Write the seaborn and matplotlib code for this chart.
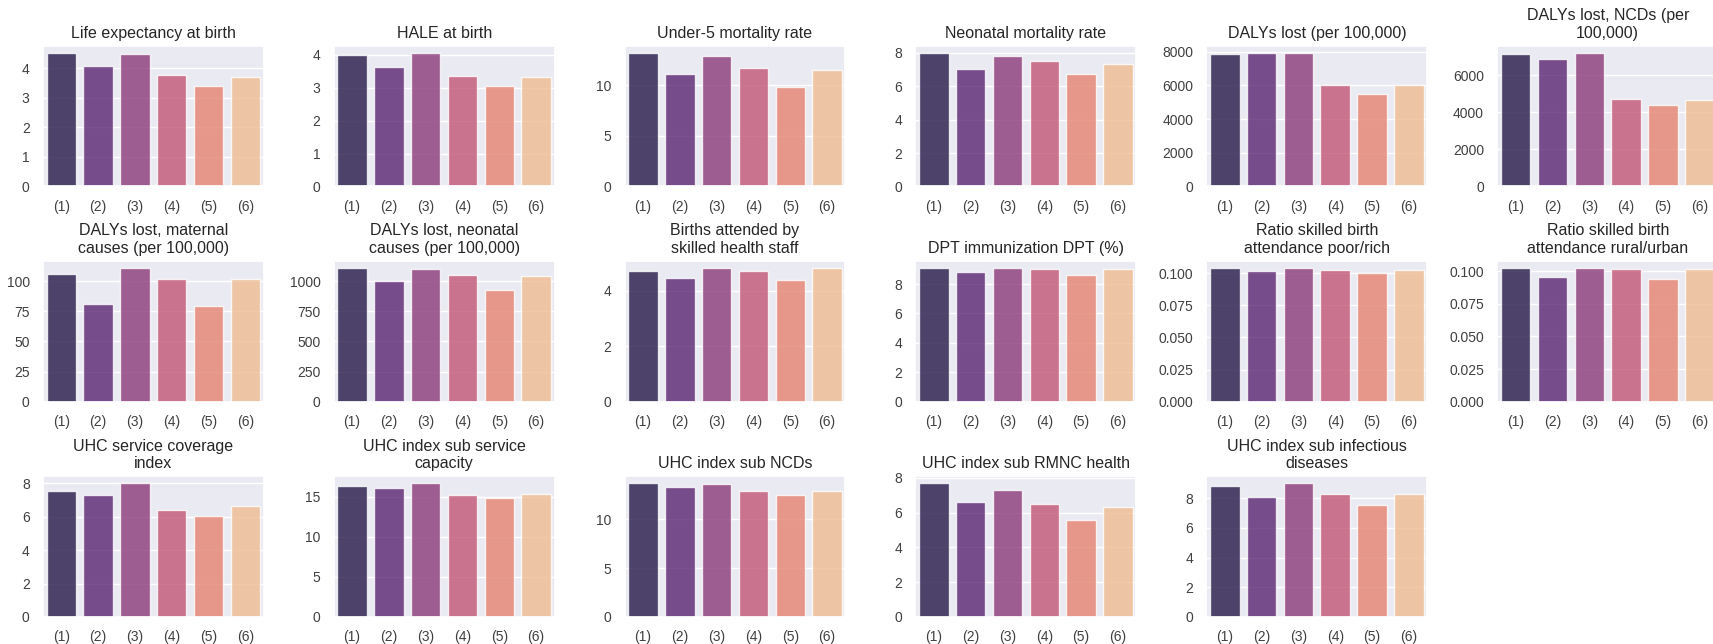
import matplotlib
matplotlib.use("Agg")
import matplotlib.pyplot as plt
import seaborn as sns
import pandas as pd

# Kategorier (grupper)
grupper = ["(1)", "(2)", "(3)", "(4)", "(5)", "(6)"]

# Verdier lest av figuren
life_exp = [4.53, 4.07, 4.47, 3.77, 3.41, 3.70]
hale = [3.98, 3.63, 4.06, 3.35, 3.06, 3.33]
under5 = [13.2, 11.05, 12.9, 11.7, 9.8, 11.45]
neonatal = [8.0, 7.0, 7.8, 7.5, 6.7, 7.3]
dalys = [7880, 7940, 7920, 6020, 5470, 6000]
dalys_ncd = [7140, 6890, 7230, 4730, 4390, 4680]
dalys_maternal = [106, 81, 111, 102, 79, 102]
dalys_neonatal = [1110, 1000, 1100, 1050, 930, 1040]
births_skilled = [4.72, 4.45, 4.82, 4.72, 4.40, 4.80]
dpt = [9.1, 8.8, 9.1, 9.0, 8.6, 9.0]
ratio_poor_rich = [0.1041, 0.1016, 0.1041, 0.1028, 0.1003, 0.1028]
ratio_rural_urban = [0.1023, 0.0959, 0.1025, 0.1018, 0.0939, 0.1020]
uhc_index = [7.55, 7.28, 8.0, 6.4, 6.05, 6.61]
uhc_capacity = [16.3, 16.15, 16.7, 15.2, 14.85, 15.3]
uhc_ncds = [13.7, 13.3, 13.6, 12.9, 12.5, 12.9]
uhc_rmnc = [7.7, 6.6, 7.3, 6.5, 5.6, 6.3]
uhc_infectious = [8.84, 8.11, 9.02, 8.26, 7.56, 8.26]

titler = [
    "Life expectancy at birth", "HALE at birth", "Under-5 mortality rate",
    "Neonatal mortality rate", "DALYs lost (per 100,000)",
    "DALYs lost, NCDs (per\n100,000)",
    "DALYs lost, maternal\ncauses (per 100,000)",
    "DALYs lost, neonatal\ncauses (per 100,000)",
    "Births attended by\nskilled health staff", "DPT immunization DPT (%)",
    "Ratio skilled birth\nattendance poor/rich",
    "Ratio skilled birth\nattendance rural/urban",
    "UHC service coverage\nindex", "UHC index sub service\ncapacity",
    "UHC index sub NCDs", "UHC index sub RMNC health",
    "UHC index sub infectious\ndiseases",
]
serier = [
    life_exp, hale, under5, neonatal, dalys, dalys_ncd,
    dalys_maternal, dalys_neonatal, births_skilled, dpt,
    ratio_poor_rich, ratio_rural_urban,
    uhc_index, uhc_capacity, uhc_ncds, uhc_rmnc, uhc_infectious,
]

sns.set_theme(style="darkgrid")
plt.rcParams["font.family"] = ["Liberation Sans", "DejaVu Sans"]

fig, axes = plt.subplots(
    3, 6, figsize=(17.13, 6.44), dpi=100,
    gridspec_kw=dict(left=0.025, right=1.003, bottom=0.042, top=0.9286,
                     wspace=0.317, hspace=0.532),
)
axes = axes.flatten()

for ax, tittel, verdier in zip(axes, titler, serier):
    df = pd.DataFrame({"gruppe": grupper, "verdi": verdier})
    sns.barplot(data=df, x="gruppe", y="verdi", hue="gruppe",
                palette="magma", legend=False, ax=ax, alpha=0.8)
    ax.set_title(tittel, fontsize=11.5, color=".15")
    ax.set_xlabel("")
    ax.set_ylabel("")
    ax.tick_params(labelsize=10, labelcolor=".25")

# Siste rute er tom
axes[-1].set_visible(False)

fig.savefig("out.png", dpi=100)
